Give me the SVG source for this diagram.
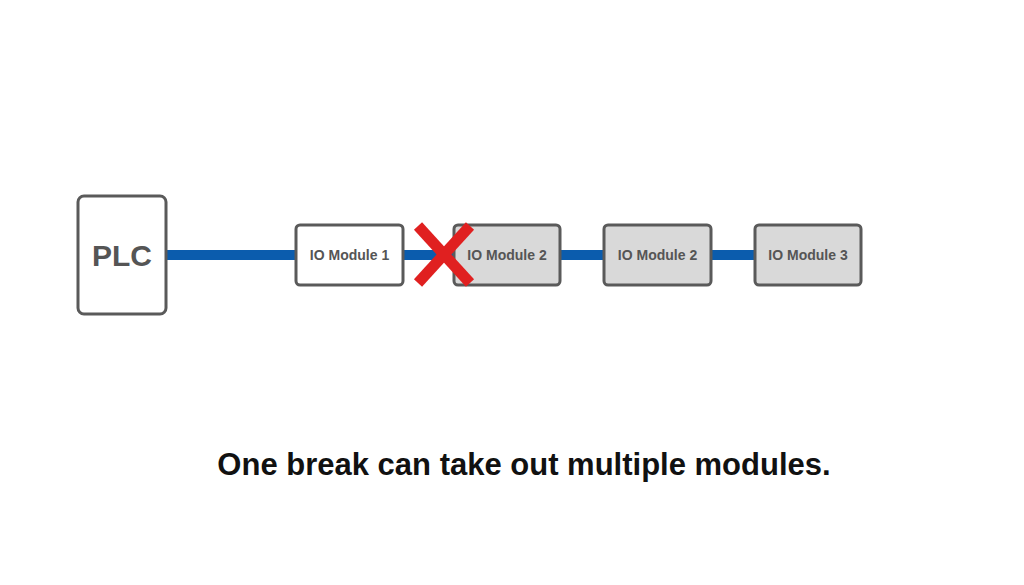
<svg xmlns="http://www.w3.org/2000/svg" width="1024" height="585" viewBox="0 0 1024 585">
<style>
.box{stroke:#5a5a5a;stroke-width:3}
.w{fill:#fff}.g{fill:#d9d9d9}
.t{font-family:"Liberation Sans",Arial,sans-serif;font-weight:bold;fill:#555;text-anchor:middle}
.m{font-size:14px}
.ln{stroke:#0b5cad;stroke-width:10}
</style>
<rect width="1024" height="585" fill="#fff"/>
<g id="connectors">
<line class="ln" x1="167" y1="255" x2="296" y2="255"/>
<line class="ln" x1="403" y1="255" x2="454" y2="255"/>
<line class="ln" x1="560" y1="255" x2="604" y2="255"/>
<line class="ln" x1="711" y1="255" x2="755" y2="255"/>
</g>
<g id="plc"><rect class="box w" x="78" y="196" width="88" height="118" rx="6" stroke-width="4"/><text class="t" x="122" y="266" font-size="30">PLC</text></g>
<g id="m1"><rect class="box w" x="296" y="225" width="107" height="60" rx="4"/><text class="t m" x="349.5" y="260">IO Module 1</text></g>
<g id="m2"><rect class="box g" x="454" y="225" width="106" height="60" rx="4"/><text class="t m" x="507" y="260">IO Module 2</text></g>
<g id="m2b"><rect class="box g" x="604" y="225" width="107" height="60" rx="4"/><text class="t m" x="657.5" y="260">IO Module 2</text></g>
<g id="m3"><rect class="box g" x="755" y="225" width="106" height="60" rx="4"/><text class="t m" x="808" y="260">IO Module 3</text></g>
<g id="x" stroke="#e02020" stroke-width="11"><line x1="418" y1="226" x2="470" y2="283"/><line x1="470" y1="226" x2="418" y2="283"/></g>
<text x="524" y="475" font-family="'Liberation Sans',Arial,sans-serif" font-weight="bold" font-size="31" fill="#111" text-anchor="middle">One break can take out multiple modules.</text>
</svg>
